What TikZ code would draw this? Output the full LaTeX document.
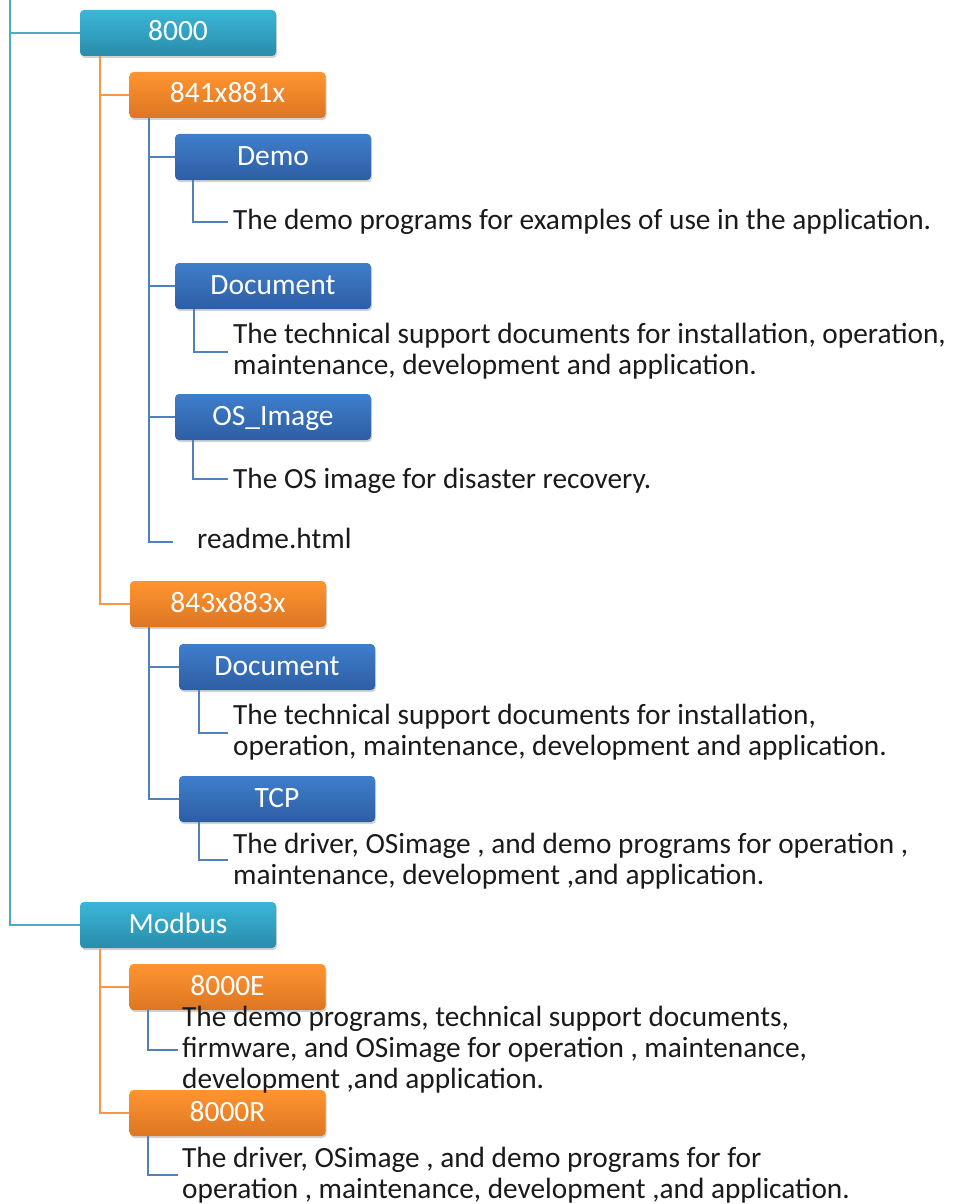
\documentclass[tikz,border=0pt]{standalone}
\usepackage{fontspec}
\setmainfont{Carlito}
\usetikzlibrary{shadows}
\definecolor{tealL}{HTML}{4BACC6}
\definecolor{orangeL}{HTML}{F79646}
\definecolor{blueL}{HTML}{4F81BD}
\definecolor{tealT}{HTML}{3AB6D8}
\definecolor{tealB}{HTML}{2A8CAA}
\definecolor{orT}{HTML}{FF9430}
\definecolor{orB}{HTML}{DC7622}
\definecolor{blT}{HTML}{3F7ECC}
\definecolor{blB}{HTML}{2D5EA3}
\definecolor{txt}{HTML}{1A1A1A}
\begin{document}
\begin{tikzpicture}[x=1pt,y=-1pt,
  box/.style={rounded corners=4pt, minimum width=196pt, minimum height=46pt, inner sep=0pt,
    text=white, font=\fontsize{29.5}{31}\selectfont, text height=20pt, text depth=4pt,
    drop shadow={shadow xshift=1pt, shadow yshift=-2pt, opacity=0.35}},
  tealbox/.style={box, top color=tealT, bottom color=tealB},
  orbox/.style={box, top color=orT, bottom color=orB},
  blbox/.style={box, top color=blT, bottom color=blB},
  tline/.style={draw=tealL, line width=2pt},
  oline/.style={draw=orangeL, line width=2pt},
  bline/.style={draw=blueL, line width=2pt},
  desc/.style={anchor=base west, inner sep=0pt, text=txt,
    font=\fontsize{29.3}{31.2}\selectfont}]
\useasboundingbox (0,0) rectangle (953,1204);

% boxes
\node[tealbox] (b8000) at (178,33) {8000};
\node[orbox] (b841) at (227.5,95) {841x881x};
\node[blbox] (demo) at (273,157) {Demo};
\node[blbox] (doc1) at (273,286) {Document};
\node[blbox] (os) at (273,417) {OS\_Image};
\node[orbox] (b843) at (228,604) {843x883x};
\node[blbox] (doc2) at (277,667) {Document};
\node[blbox] (tcp) at (277,799) {TCP};
\node[tealbox] (modbus) at (178,925) {Modbus};
\node[orbox] (e8000) at (227.5,987) {8000E};
\node[orbox] (r8000) at (227.5,1113) {8000R};

% descriptions
\node[desc] (tdemo) at (233,229) {The demo programs for examples of use in the application.};
\node[desc] (tdoc1) at (233,343) {\vtop{\hbox{The technical support documents for installation, operation,}\hbox{maintenance, development and application.}}};
\node[desc] (tos) at (233,488) {The OS image for disaster recovery.};
\node[desc] (readme) at (197,548) {readme.html};
\node[desc] (tdoc2) at (233,724) {\vtop{\hbox{The technical support documents for installation,}\hbox{operation, maintenance, development and application.}}};
\node[desc] (ttcp) at (233,853) {\vtop{\hbox{The driver, OSimage , and demo programs for operation ,}\hbox{maintenance, development ,and application.}}};
\node[desc] (te) at (182,1026) {\vtop{\hbox{The demo programs, technical support documents,}\hbox{firmware, and OSimage for operation , maintenance,}\hbox{development ,and application.}}};
\node[desc] (tr) at (182,1167) {\vtop{\hbox{The driver, OSimage , and demo programs for for}\hbox{operation , maintenance, development ,and application.}}};

% coordinates
\coordinate (top) at (10,0);
\coordinate (o1) at (100,56);
\coordinate (o2) at (100,949);
\coordinate (bl1) at (149,118);
\coordinate (bl2) at (149,627);
\coordinate (rme) at (173,542);
\coordinate (ed) at (228,222);
\coordinate (ed1) at (228,352);
\coordinate (eo) at (228,479);
\coordinate (ed2) at (228,733);
\coordinate (et) at (228,860);
\coordinate (ee) at (178,1050);
\coordinate (er) at (178,1175);

% teal
\draw[tline] (top) |- (modbus.west);
\draw[tline] (top |- b8000.west) -- (b8000.west);
% orange
\draw[oline] (o1) |- (b843.west);
\draw[oline] (o1 |- b841.west) -- (b841.west);
\draw[oline] (o2) |- (r8000.west);
\draw[oline] (o2 |- e8000.west) -- (e8000.west);
% blue from 841
\draw[bline] (bl1) |- (rme);
\draw[bline] (bl1 |- demo.west) -- (demo.west);
\draw[bline] (bl1 |- doc1.west) -- (doc1.west);
\draw[bline] (bl1 |- os.west) -- (os.west);
\draw[bline] (demo.south west) ++(18,0) |- (ed);
\draw[bline] (doc1.south west) ++(19,0) |- (ed1);
\draw[bline] (os.south west) ++(18,0) |- (eo);
% blue from 843
\draw[bline] (bl2) |- (tcp.west);
\draw[bline] (bl2 |- doc2.west) -- (doc2.west);
\draw[bline] (doc2.south west) ++(20,0) |- (ed2);
\draw[bline] (tcp.south west) ++(20,0) |- (et);
% blue from modbus children
\draw[bline] (e8000.south west) ++(19,0) |- (ee);
\draw[bline] (r8000.south west) ++(19,0) |- (er);
\end{tikzpicture}
\end{document}
